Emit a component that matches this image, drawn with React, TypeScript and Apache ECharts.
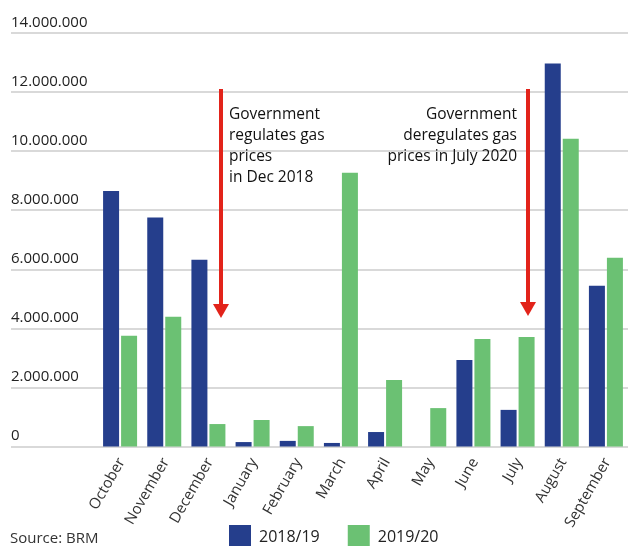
import React, { useEffect, useRef } from "react";
import * as echarts from "echarts";

const categories = ["October", "November", "December", "January", "February", "March", "April", "May", "June", "July", "August", "September"];
const series2018 = [8650000, 7750000, 6320000, 150000, 190000, 120000, 490000, 0, 2930000, 1240000, 12970000, 5440000];
const series2019 = [3750000, 4390000, 760000, 900000, 690000, 9270000, 2250000, 1300000, 3640000, 3710000, 10420000, 6390000];
const seriesNames = ["2018/19", "2019/20"];
const yMin = 0;
const yMax = 14000000;
const yInterval = 2000000;
const noteLeft = ["Government", "regulates gas", "prices", "in Dec 2018"];
const noteRight = ["Government", "deregulates gas", "prices in July 2020"];
const sourceText = "Source: BRM";

const BLUE = "#253E8C";
const GREEN = "#6BC173";
const RED = "#E2231A";
const FONT = "'Open Sans', 'Noto Sans', sans-serif";

function fmt(v: number): string {
  return String(Math.round(v)).replace(/\B(?=(\d{3})+(?!\d))/g, ".");
}

export default function App() {
  const ref = useRef<HTMLDivElement>(null);
  useEffect(() => {
    if (!ref.current) return;
    const chart = echarts.init(ref.current, undefined, { renderer: "svg" });
    const top = 33;
    const bottom = 101.5;
    chart.setOption({
      animation: false,
      textStyle: { fontFamily: FONT },
      grid: [
        { left: 11, right: 0, top, bottom, containLabel: false },
        { left: 98, width: 533, top, bottom, containLabel: false },
      ],
      xAxis: [
        { type: "value", gridIndex: 0, show: false, min: 0, max: 1 },
        {
          type: "category",
          gridIndex: 1,
          data: categories,
          axisLine: { show: false },
          axisTick: { show: false },
          axisLabel: {
            rotate: 60,
            margin: 12,
            fontSize: 15,
            color: "#333",
            fontFamily: FONT,
            interval: 0,
          },
        },
      ],
      yAxis: [
        {
          type: "value",
          gridIndex: 0,
          min: yMin,
          max: yMax,
          interval: yInterval,
          axisLine: { show: false },
          axisTick: { show: false },
          splitLine: { show: true, lineStyle: { color: "#D9D9D9", width: 2 } },
          axisLabel: {
            inside: true,
            margin: 0,
            verticalAlign: "bottom",
            padding: [0, 0, 5, 0],
            fontSize: 15,
            color: "#222",
            fontFamily: FONT,
            formatter: (v: number) => fmt(v),
          },
        },
        { type: "value", gridIndex: 1, min: yMin, max: yMax, show: false },
      ],
      legend: {
        data: seriesNames,
        left: 229,
        top: 525,
        padding: 0,
        icon: "rect",
        itemWidth: 22,
        itemHeight: 21,
        itemGap: 28,
        textStyle: { fontSize: 16, color: "#222", fontFamily: FONT, padding: [0, 0, 0, 3] },
      },
      series: [
        {
          name: seriesNames[0],
          type: "bar",
          xAxisIndex: 1,
          yAxisIndex: 1,
          data: series2018,
          barWidth: 16,
          barGap: "12.5%",
          itemStyle: { color: BLUE },
        },
        {
          name: seriesNames[1],
          type: "bar",
          xAxisIndex: 1,
          yAxisIndex: 1,
          data: series2019,
          barWidth: 16,
          barGap: "12.5%",
          itemStyle: { color: GREEN },
        },
      ],
      graphic: [
        { type: "line", shape: { x1: 221, y1: 89, x2: 221, y2: 306 }, style: { stroke: RED, lineWidth: 4 }, z: 100 },
        { type: "polygon", shape: { points: [[213, 304], [229, 304], [221, 318]] }, style: { fill: RED }, z: 100 },
        { type: "line", shape: { x1: 528, y1: 89, x2: 528, y2: 304 }, style: { stroke: RED, lineWidth: 4 }, z: 100 },
        { type: "polygon", shape: { points: [[520, 302], [536, 302], [528, 316]] }, style: { fill: RED }, z: 100 },
        {
          type: "text",
          x: 229,
          y: 102,
          z: 100,
          style: { text: noteLeft.join("\n"), fontSize: 15.5, lineHeight: 21, fill: "#111", fontFamily: FONT, align: "left" },
        },
        {
          type: "text",
          x: 517,
          y: 102,
          z: 100,
          style: { text: noteRight.join("\n"), fontSize: 15.5, lineHeight: 21, fill: "#111", fontFamily: FONT, align: "right" },
        },
        {
          type: "text",
          x: 10,
          y: 529,
          style: { text: sourceText, fontSize: 15, fill: "#333", fontFamily: FONT },
        },
      ],
    });
    return () => chart.dispose();
  }, []);
  return <div ref={ref} style={{ position: "fixed", left: 0, top: 0, width: 628, height: 548 }} />;
}
